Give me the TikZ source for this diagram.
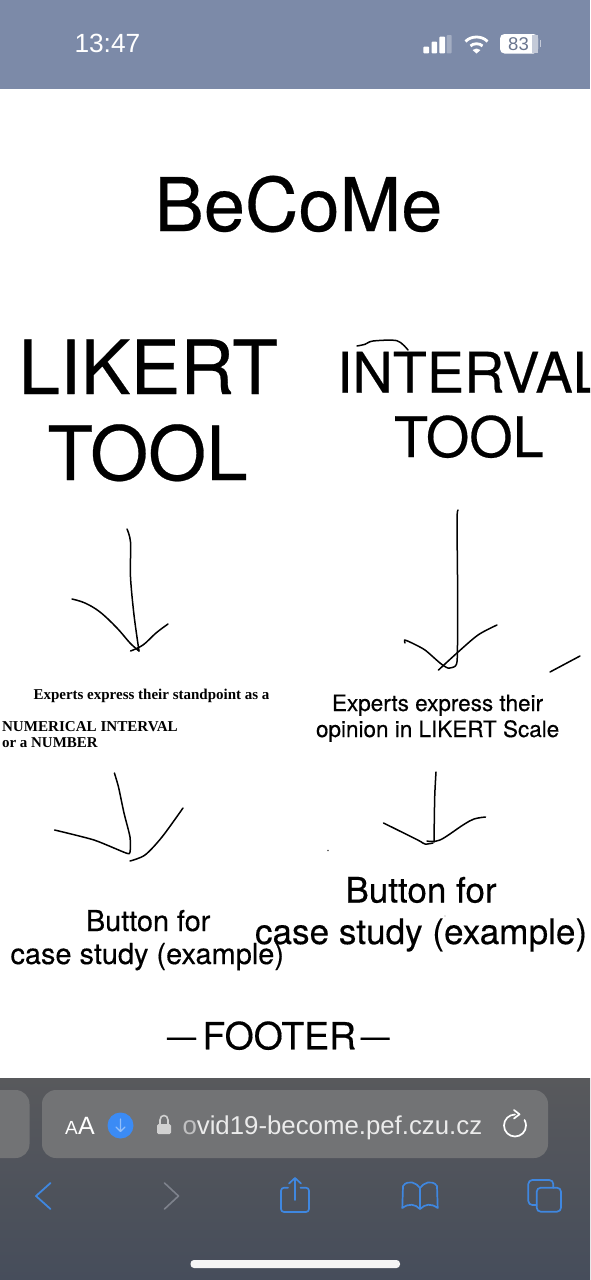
\documentclass[tikz,border=0pt]{standalone}
\usepackage{fontspec}
\setmainfont{TeX Gyre Heros}[FakeBold=0.35]
\newfontfamily\tnr{Liberation Serif}
\newfontfamily\uifont{Liberation Sans}
\newcommand{\fsz}[1]{\fontsize{#1}{#1}\selectfont}
\definecolor{statusbar}{HTML}{7C8AA8}
\definecolor{toolA}{HTML}{58595C}
\definecolor{toolM}{HTML}{4C505B}
\definecolor{toolB}{HTML}{464D5B}
\definecolor{pillc}{HTML}{727375}
\definecolor{iosblue}{HTML}{3F87E0}
\definecolor{dlblue}{HTML}{3B8BF5}
\tikzset{
  txt/.style={anchor=base west,inner sep=0pt,outer sep=0pt,text=black},
  bartxt/.style={anchor=base west,inner sep=0pt,outer sep=0pt,text=white,font=\uifont},
  ink/.style={draw=black,line width=1.5pt,line cap=round,line join=round},
  icon/.style={draw=iosblue,line width=1.7pt,line cap=round,line join=round},
  white icon/.style={draw=white,line width=1.7pt,line cap=round,line join=round}
}
\begin{document}
\begin{tikzpicture}[x=1pt,y=-1pt]
\useasboundingbox (0,0) rectangle (590,1280);
\clip (0,0) rectangle (590,1280);
\fill[white] (0,0) rectangle (590,1280);
% status bar
\fill[statusbar] (0,0) rectangle (590,88.5);
\node[bartxt] (clock) at (74.5,52.5) {\fsz{26.3}13:47};
\fill[white,rounded corners=0.8pt] (423.3,46.7) rectangle (429,53.3);
\fill[white,rounded corners=0.8pt] (431.5,41.7) rectangle (437,53.3);
\fill[white,rounded corners=0.8pt] (439.3,36.7) rectangle (445,53.3);
\fill[white!30!statusbar,rounded corners=0.8pt] (446.7,35) rectangle (451.7,53.3);
\draw[white,line width=2.8pt] (465.5,41.5) .. controls (471,35.5) and (482,35.5) .. (487.5,41.5);
\draw[white,line width=2.8pt] (470.5,46) .. controls (473,43) and (480,43) .. (482.5,46);
\fill[white] (476.5,53.5) -- (472.5,50) .. controls (475,48) and (478,48) .. (480.5,50) -- cycle;
\fill[white,rounded corners=4.5pt] (500,34) rectangle (538,53.5);
\fill[white!55!statusbar] (532,35) rectangle (538,52.5);
\fill[white!55!statusbar] (539.5,40) rectangle (541,47);
\node[anchor=base,inner sep=0pt,text=statusbar!85!black,font=\uifont] (batt) at (518.5,50) {\fsz{18.5}83};
% page texts
\node[txt] (title) at (154.5,231) {\fsz{74}BeCoMe};
\node[txt] (likert) at (18.5,394) {\fsz{74.6}LIKERT};
\node[txt] (likerttool) at (47.5,480) {\fsz{74.6}TOOL};
\node[txt] (interval) at (337,392.5) {\fsz{55.8}INTERVAL};
\node[txt] (intervaltool) at (394,457) {\fsz{55.8}TOOL};
\node[txt,font=\tnr\bfseries] (exp1) at (33.5,699) {\fsz{15}Experts express their standpoint as a};
\node[txt,font=\tnr\bfseries] (num1) at (2,731) {\fsz{15.1}NUMERICAL INTERVAL};
\node[txt,font=\tnr\bfseries] (num2) at (2,747) {\fsz{15}or a NUMBER};
\node[txt] (exp2) at (332,711) {\fsz{22.5}Experts express their};
\node[txt] (opinion) at (316,737) {\fsz{22.5}opinion in LIKERT Scale};
\node[txt] (btn1) at (86,931) {\fsz{28.8}Button for};
\node[txt] (case1) at (10.5,964) {\fsz{28.9}case study (example)};
\node[txt] (btn2) at (345.5,902.5) {\fsz{35}Button for};
\node[txt] (case2) at (255,944) {\fsz{35.1}case study (example)};
\node[txt] (footer) at (167,1049.3) {\raisebox{2.5pt}{\fsz{29}—}\hspace{6.5pt}\fsz{37.4}FOOTER\hspace{4.5pt}\raisebox{2.5pt}{\fsz{29}—}};
% hand strokes
\draw[ink] plot[smooth,tension=0.5] coordinates {(357,346) (365,344.3) (373,341) (397,340.7) (408,350)};
\draw[ink] plot[smooth,tension=0.5] coordinates {(127,529) (130.5,542) (130.5,577) (134,615) (139,651)};
\draw[ink] plot[smooth,tension=0.6] coordinates {(72,599) (85,603) (100,612) (117,628) (130,643) (139,651)};
\draw[ink] plot[smooth,tension=0.6] coordinates {(130.6,651) (143,645) (156,633) (168,624)};
\draw[ink] plot[smooth,tension=0.4] coordinates {(458,510) (457,520) (457.7,600) (457.3,657) (455.4,666) (448,668) (440,663) (425,650) (412,643) (404.6,640) (405,643)};
\draw[ink] plot[smooth,tension=0.5] coordinates {(438.5,670) (457,653) (478,635) (497,625)};
\draw[ink] (550,672) -- (580,656);
\draw[ink] plot[smooth,tension=0.4] coordinates {(114.4,773) (118.5,787) (124,813) (130,837) (130,852) (126,853) (94,840) (54.6,830)};
\draw[ink] plot[smooth,tension=0.5] coordinates {(130,861) (145,855) (162,837) (183,808)};
\draw[ink] plot[smooth,tension=0.4] coordinates {(436,772) (434.7,797) (434,842)};
\draw[ink] plot[smooth,tension=0.5] coordinates {(383.5,823) (417.8,840) (425,844) (433,843)};
\draw[ink] plot[smooth,tension=0.6] coordinates {(427,841) (440,840) (463,825) (474,819) (485.5,817)};
\fill[black!70] (328,850.5) circle (0.8);
\fill[black!40] (445,916) circle (0.7);
% bottom toolbar
\shade[top color=toolA,middle color=toolM,bottom color=toolB] (0,1078) rectangle (590,1280);
\fill[pillc,rounded corners=14pt] (-30,1090) rectangle (29.5,1158);
\fill[pillc,rounded corners=14pt] (42,1090) rectangle (548,1158);
\node[bartxt] (aa1) at (65,1134) {\fsz{19}A};
\node[bartxt] (aa2) at (78,1134) {\fsz{25}A};
\fill[dlblue] (120.5,1125.5) circle (13);
\draw[white!45!dlblue,line width=1.1pt,line cap=round,line join=round] (120.5,1119) -- (120.5,1131) (116,1127) -- (120.5,1131.5) -- (125,1127);
\fill[black!18,rounded corners=1.5pt] (157,1124) rectangle (171,1134);
\draw[black!18,line width=1.6pt] (160,1124) -- (160,1120) .. controls (160,1114) and (168,1114) .. (168,1120) -- (168,1124);
\node[bartxt,text=white!92!black] (url) at (182.5,1134) {\fsz{25.8}\textcolor{white!55!pillc}{o}vid19-become.pef.czu.cz};
\draw[white icon] (515,1114.5) arc[start angle=90,end angle=390,radius=11pt];
\draw[white icon] (514,1110) -- (519.5,1114.3) -- (514,1118.5);
% navigation icons
\draw[icon,line width=1.8pt] (50.5,1183) -- (36,1196) -- (50.5,1209);
\draw[icon,draw=white!30!toolB,line width=1.6pt] (164.5,1183) -- (178.5,1196) -- (164.5,1209);
\draw[icon,rounded corners=3pt] (288,1187.7) -- (281,1187.7) -- (281,1212) -- (309,1212) -- (309,1187.7) -- (300.5,1187.7);
\draw[icon] (295,1178) -- (295,1200) (289,1183.5) -- (295,1178) -- (301,1183.5);
\draw[icon] (420,1188) .. controls (417,1183) and (408,1179) .. (403,1186) -- (402.3,1208) .. controls (409,1203) and (415,1204) .. (420,1209) .. controls (425,1204) and (431,1203) .. (437.7,1208) -- (437,1186) .. controls (432,1179) and (423,1183) .. (420,1188) -- (420,1209);
\draw[icon,rounded corners=4pt] (536.5,1205) -- (528.3,1205) -- (528.3,1180) -- (553.3,1180) -- (553.3,1187.7);
\draw[icon,rounded corners=4pt] (536.7,1187.7) rectangle (561,1211.7);
\fill[white!94!toolA,rounded corners=3.5pt] (190.5,1260) rectangle (400,1268);
\end{tikzpicture}
\end{document}
